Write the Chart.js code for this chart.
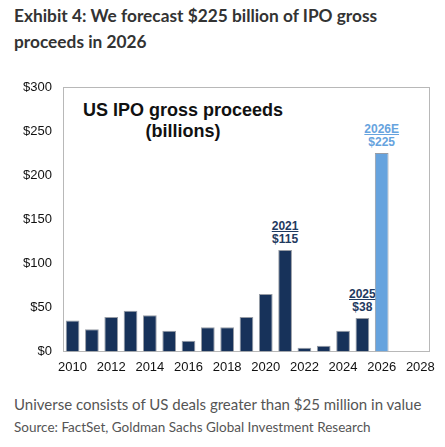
<!DOCTYPE html>
<html>
<head>
<meta charset="utf-8">
<script src="https://cdn.jsdelivr.net/npm/chart.js@4.4.1/dist/chart.umd.min.js"></script>
<style>
  html, body { margin: 0; padding: 0; background: #fff; }
  #wrap { position: relative; width: 445px; height: 447px; overflow: hidden; }
  #box { position: absolute; left: 0; top: 0; width: 445px; height: 447px; z-index: 2; }
  #under { position: absolute; left: 0; top: 0; width: 445px; height: 447px; z-index: 1; }
  .title { position: absolute; left: 14px; top: 3px; width: 425px; font-family: Lato, sans-serif; font-weight: bold; font-size: 17.3px; line-height: 26px; color: #333; }
  .inner { position: absolute; left: 63px; top: 100px; width: 240px; text-align: center; font-family: "Liberation Sans", Arial, sans-serif; font-weight: bold; font-size: 18px; line-height: 21px; color: #111; }
  .note { position: absolute; left: 14px; font-family: Lato, sans-serif; color: #555; white-space: nowrap; }
  #frame { position: absolute; border: 1px solid #b8b8b8; box-sizing: border-box; }
  .callout { position: absolute; transform: translate(-50%, -100%); text-align: center; font-family: "Liberation Sans", Arial, sans-serif; font-weight: bold; font-size: 12px; line-height: 13px; white-space: nowrap; }
  .callout u { text-decoration-thickness: 1px; text-underline-offset: 1px; }
</style>
</head>
<body>
<div id="wrap">
  <div id="under">
    <div id="frame"></div>
    <div class="title">Exhibit 4: We forecast $225 billion of IPO gross proceeds in 2026</div>
    <div class="inner">US IPO gross proceeds<br>(billions)</div>
    <div class="note" style="top:395px;font-size:15px;">Universe consists of US deals greater than $25 million in value</div>
    <div class="note" style="top:419px;font-size:13.5px;">Source: FactSet, Goldman Sachs Global Investment Research</div>
  </div>
  <div id="box"><canvas id="chart"></canvas></div>
</div>
<script>
// Years on the category axis (2027 and 2028 have no bar)
const years = ['2010', '2011', '2012', '2013', '2014', '2015', '2016', '2017', '2018', '2019',
  '2020', '2021', '2022', '2023', '2024', '2025', '2026', '2027', '2028'];
// Gross proceeds in $ billions, 2026 is the estimate
const proceeds = [35, 25, 39, 46, 41, 23.5, 12, 27.5, 27.5, 39, 65, 115, 4, 6.5, 23.5, 38, 225, null, null];
const yMax = 300;
const yStep = 50;

// Callouts above selected bars
const calloutYears = ['2021', '2025', '2026'];
const calloutTitles = ['2021', '2025', '2026E'];
const calloutValues = ['$115', '$38', '$225'];

const navy = '#17325a';
const lightBlue = '#66a3de';
const estimateYear = '2026';
const axisFont = '"Liberation Sans", Arial, sans-serif';

const barColors = years.map(y => y === estimateYear ? lightBlue : navy);

const chart = new Chart(document.getElementById('chart'), {
  type: 'bar',
  data: {
    labels: years,
    datasets: [{
      data: proceeds,
      backgroundColor: barColors,
      borderColor: 'rgba(140, 145, 155, 0.9)',
      borderWidth: 1,
      categoryPercentage: 1,
      barPercentage: 0.71
    }]
  },
  options: {
    maintainAspectRatio: false,
    animation: false,
    layout: { padding: { left: 12, top: 87, right: 15, bottom: 64 } },
    plugins: { legend: { display: false }, tooltip: { enabled: false } },
    scales: {
      x: {
        grid: { display: false, drawTicks: false },
        border: { display: false },
        ticks: {
          autoSkip: false,
          maxRotation: 0,
          padding: 8,
          color: '#111',
          font: { family: axisFont, size: 13 },
          callback: (v, i) => (i % 2 === 0 ? years[i] : '')
        }
      },
      y: {
        min: 0,
        max: yMax,
        grid: { display: false, drawTicks: false },
        border: { display: false },
        ticks: {
          stepSize: yStep,
          padding: 11,
          color: '#111',
          font: { family: axisFont, size: 13 },
          callback: v => '$' + v
        }
      }
    }
  }
});

// Grey box round the plot area
const area = chart.chartArea;
const frame = document.getElementById('frame');
frame.style.left = Math.round(area.left) + 'px';
frame.style.top = Math.round(area.top) + 'px';
frame.style.width = Math.round(area.right - area.left) + 'px';
frame.style.height = Math.round(area.bottom - area.top + 1) + 'px';

// Year + value labels placed over the bars through the chart's scales
const under = document.getElementById('under');
calloutYears.forEach((yr, i) => {
  const idx = years.indexOf(yr);
  const x = chart.scales.x.getPixelForValue(idx);
  const top = chart.scales.y.getPixelForValue(proceeds[idx]);
  const div = document.createElement('div');
  div.className = 'callout';
  div.style.left = x + 'px';
  div.style.top = (top - 4) + 'px';
  div.style.color = yr === estimateYear ? lightBlue : '#1f3a60';
  div.innerHTML = '<u>' + calloutTitles[i] + '</u><br>' + calloutValues[i];
  under.appendChild(div);
});
</script>
</body>
</html>
